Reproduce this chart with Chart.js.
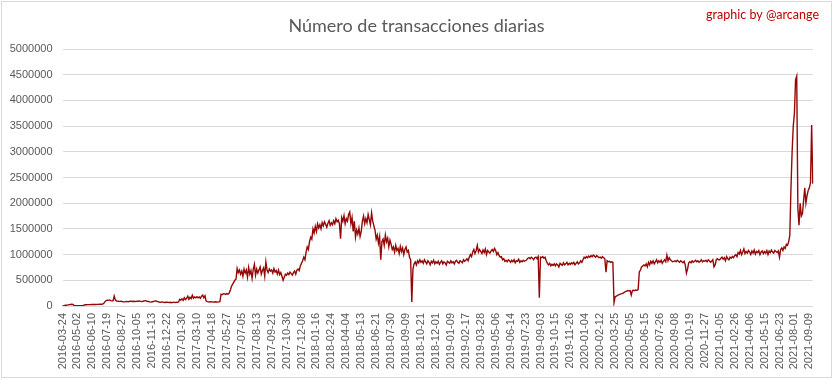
<!DOCTYPE html>
<html><head><meta charset="utf-8">
<script src="https://cdn.jsdelivr.net/npm/chart.js@4.4.0/dist/chart.umd.min.js"></script>
<style>html,body{margin:0;padding:0;background:#fff}#wrap{width:833px;height:379px;position:relative}canvas{display:block}</style>
</head><body><div id="wrap"><canvas id="c" width="833" height="379"></canvas></div>
<script>
const chartTitle = 'Número de transacciones diarias';
const creditText = 'graphic by @arcange';

const tickLabels = [
 '2016-03-24','2016-05-02','2016-06-10','2016-07-19','2016-08-27','2016-10-05','2016-11-13','2016-12-22',
 '2017-01-30','2017-03-10','2017-04-18','2017-05-27','2017-07-05','2017-08-13','2017-09-21','2017-10-30','2017-12-08',
 '2018-01-16','2018-02-24','2018-04-04','2018-05-13','2018-06-21','2018-07-30','2018-09-09','2018-10-21','2018-12-01',
 '2019-01-09','2019-02-17','2019-03-28','2019-05-06','2019-06-14','2019-07-23','2019-09-03','2019-10-15','2019-11-26',
 '2020-01-04','2020-02-12','2020-03-25','2020-05-05','2020-06-15','2020-07-26','2020-09-08','2020-10-19','2020-11-27',
 '2021-01-05','2021-02-26','2021-04-06','2021-05-15','2021-06-23','2021-08-01','2021-09-09'
];

// one value every ~3 days, 13 values between consecutive tick labels
const transacciones = [
 3000,6000,10000,14000,18000,22000,26000,30000,33000,30000,12000,6000,5000,
 5000,5000,6000,6000,7000,8000,20000,24000,25000,26000,27000,27000,28000,
 28000,29000,30000,30000,31000,32000,33000,33000,35000,36000,55000,85000,105000,
 112000,110000,118000,105000,100000,100000,195000,120000,98000,95000,92000,90000,93000,
 85000,82000,80000,86000,90000,84000,88000,92000,95000,89000,93000,87000,90000,
 95000,92000,98000,90000,86000,93000,100000,105000,98000,92000,88000,80000,75000,
 82000,88000,95000,100000,92000,85000,78000,72000,75000,80000,70000,68000,72000,
 75000,70000,68000,73000,65000,70000,72000,66000,74000,70000,78000,130000,115000,
 140000,110000,160000,125000,150000,190000,130000,170000,145000,210000,150000,175000,160000,
 180000,160000,175000,150000,190000,210000,160000,200000,95000,85000,80000,78000,82000,
 80000,78000,76000,82000,79000,75000,80000,85000,230000,220000,240000,235000,225000,
 240000,230000,250000,300000,380000,420000,460000,500000,520000,730000,650000,700000,620000,
 680000,580000,720000,640000,700000,560000,750000,620000,690000,540000,710000,810000,600000,
 720000,640000,700000,760000,620000,690000,740000,580000,860000,700000,650000,720000,680000,
 700000,640000,730000,660000,690000,620000,700000,610000,650000,580000,500000,560000,620000,
 600000,640000,610000,660000,630000,600000,650000,680000,620000,700000,720000,690000,780000,
 830000,880000,950000,900000,1050000,1150000,1100000,1250000,1340000,1300000,1500000,1420000,1550000,
 1450000,1600000,1520000,1580000,1500000,1620000,1560000,1640000,1590000,1530000,1610000,1660000,1570000,
 1620000,1580000,1660000,1600000,1700000,1640000,1670000,1600000,1310000,1720000,1650000,1760000,1600000,
 1700000,1650000,1780000,1830000,1600000,1720000,1450000,1650000,1340000,1480000,1400000,1520000,1350000,
 1450000,1650000,1750000,1600000,1700000,1620000,1780000,1680000,1580000,1810000,1650000,1560000,1470000,
 1300000,1380000,1220000,1350000,900000,1250000,1300000,1180000,1380000,1250000,1320000,1150000,1280000,
 1200000,1100000,1150000,1050000,1180000,1080000,1120000,1020000,1160000,1060000,1130000,1000000,1100000,
 1150000,1050000,1080000,950000,900000,80000,720000,820000,860000,800000,880000,840000,900000,
 850000,880000,830000,900000,860000,820000,880000,850000,800000,870000,840000,890000,820000,
 860000,830000,870000,810000,850000,880000,820000,860000,840000,800000,870000,850000,830000,
 880000,840000,860000,820000,870000,890000,850000,830000,880000,860000,840000,900000,870000,
 890000,920000,880000,950000,1000000,960000,1050000,1100000,1020000,1080000,1180000,1050000,1100000,
 1060000,1020000,1090000,1040000,1110000,1000000,1080000,1050000,1030000,1070000,1100000,1060000,1120000,
 1080000,1000000,1040000,980000,950000,960000,900000,920000,870000,890000,860000,900000,880000,
 850000,890000,860000,900000,840000,880000,870000,910000,850000,880000,860000,890000,870000,
 880000,900000,930000,940000,920000,950000,930000,900000,940000,950000,920000,960000,160000,
 950000,940000,960000,930000,950000,880000,830000,800000,830000,780000,810000,790000,820000,
 780000,820000,800000,760000,830000,810000,790000,840000,800000,820000,850000,800000,830000,
 810000,840000,820000,850000,800000,830000,860000,820000,840000,880000,850000,900000,950000,
 930000,960000,940000,970000,950000,980000,960000,990000,970000,950000,980000,960000,940000,
 950000,930000,960000,940000,920000,660000,880000,860000,870000,850000,860000,850000,65000,
 180000,190000,205000,215000,225000,235000,240000,250000,270000,280000,290000,300000,295000,
 300000,210000,300000,305000,300000,310000,305000,320000,660000,700000,760000,780000,800000,
 780000,820000,760000,850000,800000,870000,830000,880000,820000,860000,900000,840000,880000,
 850000,890000,830000,870000,900000,860000,990000,880000,940000,900000,880000,860000,870000,
 880000,860000,890000,870000,850000,880000,860000,840000,870000,800000,640000,720000,840000,
 860000,840000,880000,850000,870000,890000,860000,880000,850000,870000,900000,860000,880000,
 870000,890000,860000,900000,880000,850000,870000,900000,760000,800000,900000,920000,900000,
 900000,930000,950000,910000,940000,880000,960000,920000,900000,950000,930000,960000,940000,
 980000,1000000,960000,1040000,1010000,1080000,1000000,1050000,1110000,1020000,1060000,1030000,1080000,
 1050000,1000000,1070000,1030000,1090000,1010000,1060000,1040000,1080000,1000000,1050000,1070000,1020000,
 1060000,1030000,1080000,1000000,1070000,1040000,1090000,1050000,1030000,1080000,1060000,1040000,1070000,
 950000,1100000,1130000,1080000,1150000,1120000,1200000,1180000,1250000,1380000,2300000,3000000,3500000,
 3750000,4400000,4470000,1900000,1570000,2000000,1750000,1800000,2050000,2300000,2000000,2150000,2250000,
 2300000,2400000,3520000,2380000
];

const yMin = 0, yMax = 5000000, yStep = 500000;

const categories = transacciones.map((_, i) => (i % 13 === 0 && tickLabels[i / 13]) ? tickLabels[i / 13] : '');

const decor = {
  id: 'decor',
  beforeDraw(chart) {
    const c = chart.ctx;
    c.save();
    c.fillStyle = '#ffffff';
    c.fillRect(0, 0, chart.width, chart.height);
    c.restore();
  },
  afterDraw(chart) {
    const c = chart.ctx;
    c.save();
    c.strokeStyle = '#d9d9d9';
    c.lineWidth = 1;
    c.strokeRect(1.5, 1.5, chart.width - 3, chart.height - 3);
    c.fillStyle = '#595959';
    c.font = '18px Lato, "Liberation Sans", sans-serif';
    c.textAlign = 'center';
    c.textBaseline = 'alphabetic';
    c.fillText(chartTitle, chart.width / 2, 32);
    c.fillStyle = '#c00000';
    c.font = '12.5px Lato, "Liberation Sans", sans-serif';
    c.textAlign = 'right';
    c.fillText(creditText, 819, 19);
    c.restore();
  }
};

const tickFont = { family: '"Liberation Sans", Arial, sans-serif', size: 11 };

new Chart(document.getElementById('c').getContext('2d'), {
  type: 'line',
  data: {
    labels: categories,
    datasets: [{
      data: transacciones,
      borderColor: '#950808',
      borderWidth: 1.4,
      pointRadius: 0,
      tension: 0,
      fill: false
    }]
  },
  options: {
    responsive: false,
    animation: false,
    devicePixelRatio: 1,
    layout: { padding: { top: 49, right: 15, bottom: 0, left: 0 } },
    plugins: { legend: { display: false }, tooltip: { enabled: false }, title: { display: false } },
    scales: {
      x: {
        offset: false,
        grid: { display: false, drawTicks: false },
        border: { display: true, color: '#d9d9d9', width: 1 },
        ticks: { autoSkip: false, maxRotation: 90, minRotation: 90, padding: 7, color: '#595959', font: tickFont },
        afterFit(s) { s.height = 73; }
      },
      y: {
        min: yMin, max: yMax,
        grid: { color: '#d9d9d9', drawTicks: false },
        border: { display: false },
        ticks: { stepSize: yStep, padding: 10, color: '#595959', font: tickFont, callback: v => String(v) },
        afterFit(s) { s.width = 62.5; }
      }
    }
  },
  plugins: [decor]
});
</script>
</body></html>
